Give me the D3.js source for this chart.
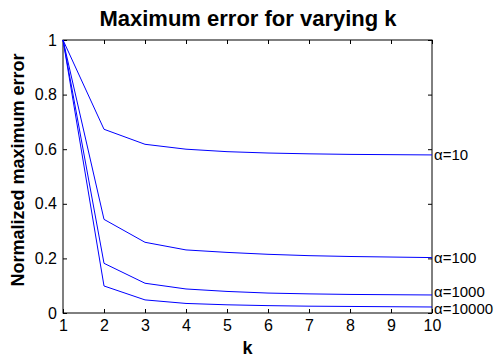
<!DOCTYPE html>
<html><head><meta charset="utf-8">
<script src="https://cdn.jsdelivr.net/npm/d3@7"></script>
<style>body{margin:0;background:#fff}svg{display:block}text{font-family:"Liberation Sans",Arial,sans-serif}</style>
</head><body><svg id="c" width="500" height="358"></svg>
<script>
const kValues = [1,2,3,4,5,6,7,8,9,10];
const seriesNames = ["α=10","α=100","α=1000","α=10000"];
const alpha10    = [1,0.673,0.618,0.600,0.591,0.586,0.583,0.581,0.580,0.579];
const alpha100   = [1,0.343,0.259,0.231,0.222,0.215,0.210,0.207,0.205,0.203];
const alpha1000  = [1,0.182,0.109,0.088,0.079,0.073,0.070,0.068,0.067,0.066];
const alpha10000 = [1,0.099,0.048,0.035,0.030,0.027,0.025,0.024,0.023,0.022];
const yTicks = [0,0.2,0.4,0.6,0.8,1];
const yTickLabels = ["0","0.2","0.4","0.6","0.8","1"];
const xTickLabels = ["1","2","3","4","5","6","7","8","9","10"];

const series = [alpha10, alpha100, alpha1000, alpha10000];
const m = {l:63, r:432, t:40, b:313};
const svg = d3.select("#c");
const x = d3.scaleLinear().domain([1,10]).range([m.l,m.r]);
const y = d3.scaleLinear().domain([0,1]).range([m.b,m.t]);

svg.append("rect").attr("x",m.l).attr("y",m.t).attr("width",m.r-m.l).attr("height",m.b-m.t)
  .attr("fill","none").attr("stroke","#000").attr("stroke-width",1);

const fs = 16;
const gB = svg.append("g").attr("transform",`translate(0,${m.b})`)
  .call(d3.axisBottom(x).tickValues(kValues).tickFormat((d,i)=>xTickLabels[i]).tickSizeInner(-4).tickSizeOuter(0).tickPadding(7));
const gT = svg.append("g").attr("transform",`translate(0,${m.t})`)
  .call(d3.axisTop(x).tickValues(kValues).tickFormat("").tickSizeInner(-4).tickSizeOuter(0));
const gL = svg.append("g").attr("transform",`translate(${m.l},0)`)
  .call(d3.axisLeft(y).tickValues(yTicks).tickFormat((d,i)=>yTickLabels[i]).tickSizeInner(-4).tickSizeOuter(0).tickPadding(6));
const gR = svg.append("g").attr("transform",`translate(${m.r},0)`)
  .call(d3.axisRight(y).tickValues(yTicks).tickFormat("").tickSizeInner(-4).tickSizeOuter(0));
[gB,gT,gL,gR].forEach(g=>{
  g.select(".domain").remove();
  g.selectAll("line").attr("stroke","#000");
  g.selectAll("text").attr("font-size",fs).attr("fill","#000").style("font-family","Liberation Sans, Arial, sans-serif");
});

const line = d3.line().x((d,i)=>x(kValues[i])).y(d=>y(d));
const labelNudge = [0,0,-3,2];
series.forEach((s,j)=>{
  svg.append("path").datum(s).attr("d",line).attr("fill","none").attr("stroke","#0000ff").attr("stroke-width",1);
  svg.append("text").attr("x",m.r+2).attr("y",y(s[s.length-1])+labelNudge[j]).attr("dy","0.36em")
    .attr("font-size",15).text(seriesNames[j]);
});

svg.append("text").attr("x",248).attr("y",26).attr("text-anchor","middle")
  .attr("font-size",22).attr("font-weight","bold").text("Maximum error for varying k");
svg.append("text").attr("x",(m.l+m.r)/2).attr("y",354).attr("text-anchor","middle")
  .attr("font-size",18).attr("font-weight","bold").text("k");
svg.append("text").attr("transform",`translate(24,170) rotate(-90)`).attr("text-anchor","middle")
  .attr("font-size",18).attr("font-weight","bold").text("Normalized maximum error");
</script></body></html>
